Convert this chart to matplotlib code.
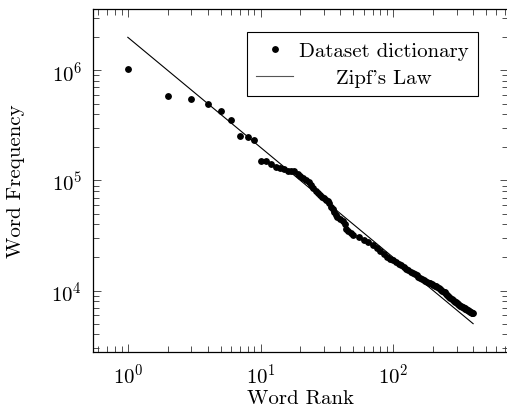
import matplotlib
matplotlib.use('Agg')
import matplotlib.pyplot as plt
import numpy as np

# word rank / frequency
ranks = [1, 2, 3, 4, 5, 6, 7, 8, 9, 10,
         11, 12, 13, 14, 15, 16, 17, 18, 19, 20,
         21, 22, 23, 24, 25, 26, 27, 28, 29, 30,
         31, 32, 33, 34, 35, 36, 37, 38, 40, 42,
         43, 44, 46, 48, 50, 55, 60, 65, 70, 75,
         80, 85, 90, 95, 100, 105, 110, 115, 120, 125,
         130, 135, 140, 145, 150, 155, 160, 165, 170, 175,
         180, 185, 190, 195, 200, 205, 210, 215, 220, 225,
         230, 235, 240, 245, 250, 255, 260, 265, 270, 275,
         280, 285, 290, 295, 300, 305, 310, 315, 320, 325,
         330, 335, 340, 345, 350, 355, 360, 365, 370, 375,
         380, 385, 390, 395, 400]
freqs = [1.035e6, 5.85e5, 5.55e5, 4.92e5, 4.31e5, 3.56e5, 2.52e5, 2.50e5, 2.35e5, 1.51e5,
         1.49e5, 1.41e5, 1.33e5, 1.29e5, 1.26e5, 1.23e5, 1.22e5, 1.21e5, 1.14e5, 1.10e5,
         1.06e5, 1.01e5, 9.6e4, 9.1e4, 8.6e4, 8.1e4, 7.7e4, 7.4e4, 7.1e4, 6.9e4,
         6.7e4, 6.5e4, 6.2e4, 5.8e4, 5.5e4, 5.2e4, 4.9e4, 4.65e4, 4.45e4, 4.3e4,
         4.0e4, 3.65e4, 3.45e4, 3.3e4, 3.2e4, 3.05e4, 2.9e4, 2.75e4, 2.6e4, 2.45e4,
         2.27e4, 2.13e4, 2.03e4, 1.95e4, 1.88e4, 1.81e4, 1.75e4, 1.69e4, 1.64e4, 1.58e4,
         1.53e4, 1.48e4, 1.44e4, 1.41e4, 1.38e4, 1.34e4, 1.31e4, 1.27e4, 1.24e4, 1.22e4,
         1.20e4, 1.18e4, 1.16e4, 1.14e4, 1.12e4, 1.105e4, 1.09e4, 1.07e4, 1.05e4, 1.03e4,
         1.01e4, 9.95e3, 9.8e3, 9.6e3, 9.4e3, 9.15e3, 8.9e3, 8.7e3, 8.5e3, 8.35e3,
         8.2e3, 8.07e3, 7.95e3, 7.82e3, 7.7e3, 7.6e3, 7.5e3, 7.4e3, 7.3e3, 7.22e3,
         7.15e3, 7.07e3, 7.0e3, 6.92e3, 6.85e3, 6.78e3, 6.7e3, 6.62e3, 6.55e3, 6.47e3,
         6.4e3, 6.35e3, 6.3e3, 6.25e3, 6.2e3]

# Zipf's law reference line
zipf_ranks = [1, 400]
zipf_freqs = [2.0e6, 5.0e3]

plt.rcParams['font.family'] = 'cmr10'
plt.rcParams['mathtext.fontset'] = 'cm'
plt.rcParams['axes.formatter.use_mathtext'] = True
plt.rcParams['font.size'] = 15

fig = plt.figure(figsize=(5.07, 4.14), dpi=100)
ax = fig.add_axes([0.184, 0.1466, 0.8173, 0.830])

ax.plot(ranks, freqs, 'o', color='black', markersize=3.9, label='Dataset dictionary')
ax.plot(zipf_ranks, zipf_freqs, '-', color='black', linewidth=0.8, label='Zipf\'s Law')

ax.set_xscale('log')
ax.set_yscale('log')

# pgfplots-style 10% enlargement in log space
lx = np.log10(zipf_ranks[-1]) - np.log10(zipf_ranks[0])
ly = np.log10(zipf_freqs[0]) - np.log10(zipf_freqs[-1])
ax.set_xlim(10 ** (np.log10(zipf_ranks[0]) - 0.1 * lx), 10 ** (np.log10(zipf_ranks[-1]) + 0.1 * lx))
ax.set_ylim(10 ** (np.log10(zipf_freqs[-1]) - 0.1 * ly), 10 ** (np.log10(zipf_freqs[0]) + 0.1 * ly))

ax.tick_params(which='both', direction='in', top=True, right=True, width=0.6, color='#333333')
ax.tick_params(which='major', length=6)
ax.tick_params(which='minor', length=4)
ax.tick_params(axis='x', which='major', pad=7)
ax.tick_params(axis='y', which='major', pad=8)
for s in ax.spines.values():
    s.set_linewidth(0.9)

ax.set_xlabel('Word Rank', labelpad=2)
ax.set_ylabel('Word Frequency', labelpad=19)

leg = ax.legend(loc='upper right', bbox_to_anchor=(0.929, 0.931), borderaxespad=0,
                fancybox=False, edgecolor='black', framealpha=1,
                handlelength=1.75, handletextpad=0.3, borderpad=0.45, labelspacing=0.38)
leg.get_frame().set_linewidth(0.8)
leg.get_lines()[1].set_color('#555555')

# centre the shorter legend entry like pgfplots does
fig.canvas.draw()
r = fig.canvas.get_renderer()
t0, t1 = leg.get_texts()
w0 = t0.get_window_extent(r).width
w1 = t1.get_window_extent(r).width
t1.set_x((w0 - w1) / 2)

fig.savefig('out.png', dpi=100)
